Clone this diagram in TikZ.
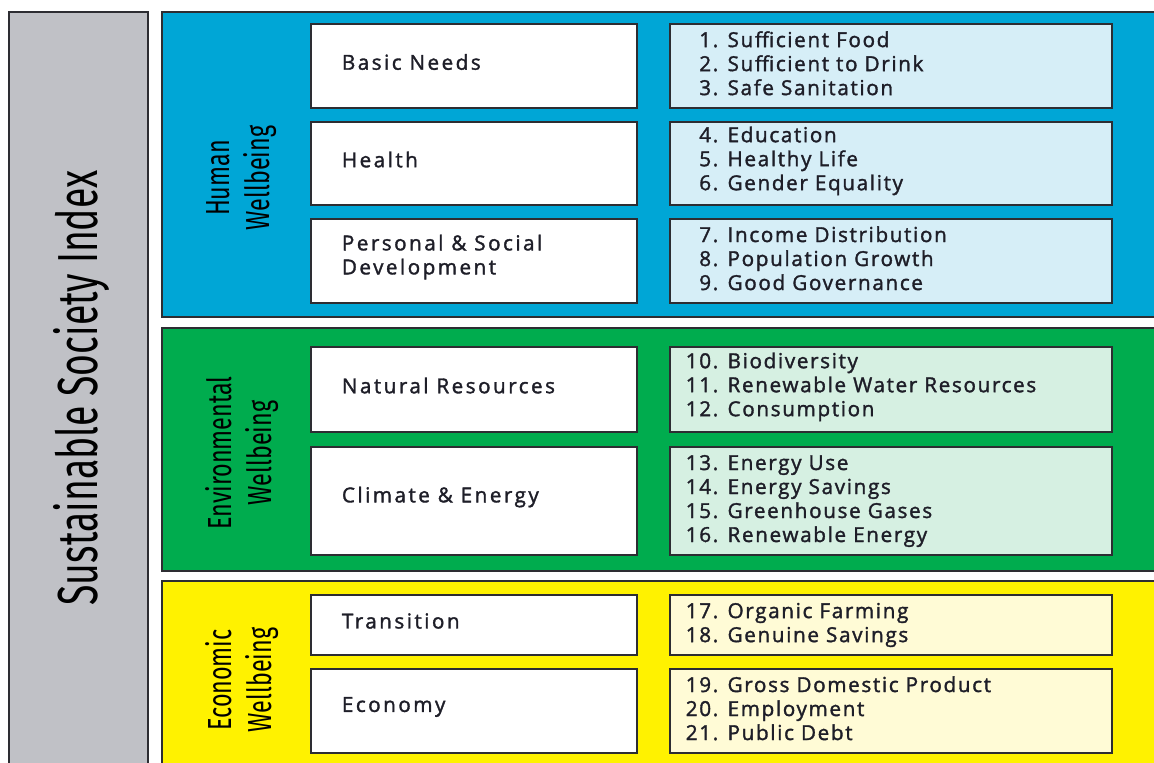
\documentclass[tikz,border=0pt]{standalone}
\usepackage{fontspec}
\setmainfont{Fira Sans}
\newfontfamily\condfont[FakeStretch=0.7]{Fira Sans}
\newfontfamily\listfont[LetterSpace=8, FakeBold=1.6]{Open Sans}
\newfontfamily\catfont[LetterSpace=12, FakeBold=1.6]{Open Sans}
\definecolor{sblue}{RGB}{0,166,214}
\definecolor{sgreen}{RGB}{0,172,78}
\definecolor{syellow}{RGB}{255,242,0}
\definecolor{sgray}{RGB}{192,193,198}
\definecolor{lblue}{RGB}{214,238,247}
\definecolor{lgreen}{RGB}{214,240,226}
\definecolor{lyellow}{RGB}{255,251,214}
\definecolor{edgec}{RGB}{45,45,50}
\definecolor{txt}{RGB}{30,30,40}
\newcommand\bx[6]{\node[#6, anchor=north west, minimum width={(#4-#2)*0.75pt}, minimum height={(#5-#3)*0.75pt}] (#1) at (#2,#3) {};}
\newcommand\itm[2]{\makebox[24pt][r]{#1}\hspace{7pt}#2}
\tikzset{
  panel/.style={draw=edgec, line width=1.5pt, inner sep=0pt, outer sep=0pt},
  cat/.style={panel, fill=white},
  lst/.style={panel},
  cattext/.style={anchor=west, text=txt, font=\catfont\fontsize{15.5}{18}\selectfont, align=left, inner sep=0pt},
  lsttext/.style={anchor=west, text=txt, font=\listfont\fontsize{15.5}{18}\selectfont, align=left, inner sep=0pt},
  side/.style={rotate=90, text=black, font=\condfont\fontsize{25}{30}\selectfont, align=center, inner sep=0pt}
}
\begin{document}
\begin{tikzpicture}[x=0.75pt,y=-0.75pt]
\useasboundingbox (0,0) rectangle (1154,763);
\clip (0,0) rectangle (1154,763);
\fill[white] (0,0) rectangle (1154,763);
% main panels
\bx{ssi}{9}{12}{148}{780}{panel, fill=sgray}
\bx{hw}{162}{12}{1170}{317}{panel, fill=sblue}
\bx{ew}{162}{328}{1170}{571}{panel, fill=sgreen}
\bx{ecw}{162}{581}{1170}{780}{panel, fill=syellow}
% category boxes
\bx{bn}{311}{24}{637}{108}{cat}
\bx{he}{311}{122}{637}{205}{cat}
\bx{ps}{311}{219}{637}{303}{cat}
\bx{nr}{311}{347}{637}{432}{cat}
\bx{ce}{311}{447}{637}{555}{cat}
\bx{tr}{311}{595}{637}{655}{cat}
\bx{ec}{311}{669}{637}{753}{cat}
% list boxes
\bx{l1}{670}{24}{1112}{108}{lst, fill=lblue}
\bx{l2}{670}{122}{1112}{205}{lst, fill=lblue}
\bx{l3}{670}{219}{1112}{303}{lst, fill=lblue}
\bx{l4}{670}{347}{1112}{432}{lst, fill=lgreen}
\bx{l5}{670}{447}{1112}{555}{lst, fill=lgreen}
\bx{l6}{670}{595}{1112}{655}{lst, fill=lyellow}
\bx{l7}{670}{669}{1112}{753}{lst, fill=lyellow}
% titles
\node[rotate=90, text=black, inner sep=0pt] (ssit) at (82,388) {\resizebox{326pt}{33pt}{Sustainable Society Index}};
\node[side] (hwt) at (242,178) {Human\\Wellbeing};
\node[side] (ewt) at (242,453) {Environmental\\Wellbeing};
\node[side] (ecwt) at (242,680) {Economic\\Wellbeing};
% category texts
\node[cattext] (bnt) at ([xshift=23pt,yshift=3pt]bn.west) {Basic Needs};
\node[cattext] (het) at ([xshift=23pt,yshift=3pt]he.west) {Health};
\node[cattext] (pst) at ([xshift=23pt,yshift=3pt]ps.west) {Personal \& Social\\Development};
\node[cattext] (nrt) at ([xshift=23pt,yshift=3pt]nr.west) {Natural Resources};
\node[cattext] (cet) at ([xshift=23pt,yshift=3pt]ce.west) {Climate \& Energy};
\node[cattext] (trt) at ([xshift=23pt,yshift=3pt]tr.west) {Transition};
\node[cattext] (ect) at ([xshift=23pt,yshift=3pt]ec.west) {Economy};
% list texts
\node[lsttext] (l1t) at ([xshift=12pt,yshift=2pt]l1.west) {\itm{1.}{Sufficient Food}\\\itm{2.}{Sufficient to Drink}\\\itm{3.}{Safe Sanitation}};
\node[lsttext] (l2t) at ([xshift=12pt,yshift=2pt]l2.west) {\itm{4.}{Education}\\\itm{5.}{Healthy Life}\\\itm{6.}{Gender Equality}};
\node[lsttext] (l3t) at ([xshift=12pt,yshift=2pt]l3.west) {\itm{7.}{Income Distribution}\\\itm{8.}{Population Growth}\\\itm{9.}{Good Governance}};
\node[lsttext] (l4t) at ([xshift=12pt,yshift=2pt]l4.west) {\itm{10.}{Biodiversity}\\\itm{11.}{Renewable Water Resources}\\\itm{12.}{Consumption}};
\node[lsttext] (l5t) at ([xshift=12pt]l5.west) {\itm{13.}{Energy Use}\\\itm{14.}{Energy Savings}\\\itm{15.}{Greenhouse Gases}\\\itm{16.}{Renewable Energy}};
\node[lsttext] (l6t) at ([xshift=12pt]l6.west) {\itm{17.}{Organic Farming}\\\itm{18.}{Genuine Savings}};
\node[lsttext] (l7t) at ([xshift=12pt,yshift=2pt]l7.west) {\itm{19.}{Gross Domestic Product}\\\itm{20.}{Employment}\\\itm{21.}{Public Debt}};
\end{tikzpicture}
\end{document}
